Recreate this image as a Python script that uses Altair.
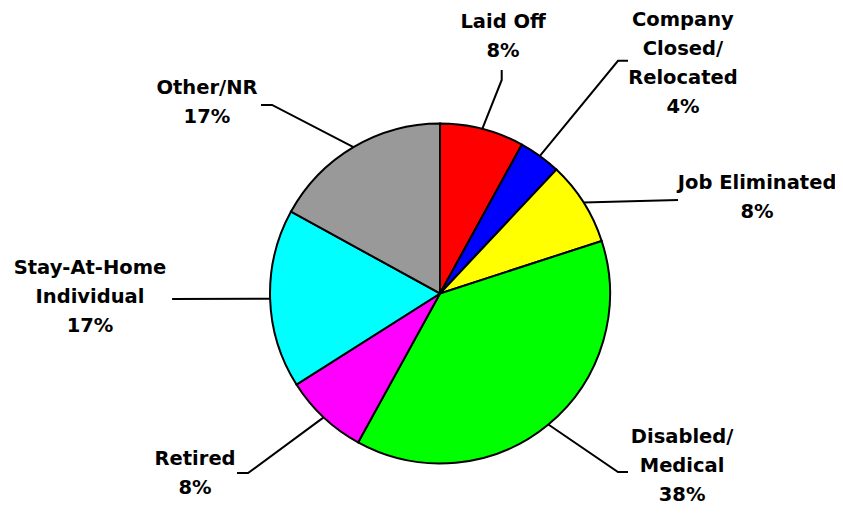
import altair as alt
import pandas as pd
import numpy as np

# ---- data ----
categories = ["Laid Off", "Company Closed/Relocated", "Job Eliminated",
              "Disabled/Medical", "Retired", "Stay-At-Home Individual", "Other/NR"]
label_lines = [["Laid Off"], ["Company", "Closed/", "Relocated"], ["Job Eliminated"],
               ["Disabled/", "Medical"], ["Retired"], ["Stay-At-Home", "Individual"], ["Other/NR"]]
percent = [8, 4, 8, 38, 8, 17, 17]
colors = ["#FF0000", "#0000FF", "#FFFF00", "#00FF00", "#FF00FF", "#00FFFF", "#999999"]

# ---- layout (units of pie radius, pie centre at 0,0; label y = first line) ----
label_pos = [(0.371, 1.597), (1.429, 1.609), (1.865, 0.650), (1.424, -0.844),
             (-1.441, -0.974), (-2.059, 0.150), (-1.371, 1.209)]
leader_elbow = [(0.363, 1.256), (1.047, 1.369), (1.40, 0.55), (1.047, -1.05),
                (-1.129, -1.056), (-1.576, -0.032), (-0.988, 1.109)]
leader_end = [(0.363, 1.315), (1.106, 1.369), (1.40, 0.55), (1.106, -1.05),
              (-1.194, -1.056), (-1.576, -0.032), (-1.053, 1.109)]

W, H = 827, 500
R = 170
xdom = [-2.5412, 2.3235]
ydom = [-1.2618, 1.6794]
xs = alt.Scale(domain=xdom, zero=False, nice=False)
ys = alt.Scale(domain=ydom, zero=False, nice=False)

pie_df = pd.DataFrame({"category": categories, "pct": percent, "idx": list(range(len(percent)))})

pct = np.array(percent, dtype=float)
start = np.cumsum(pct) - pct
mid = (start + pct / 2) / 100 * 2 * np.pi
edge_x = np.sin(mid)
edge_y = np.cos(mid)

rows = []
for i, c in enumerate(categories):
    rows.append({"category": c, "seq": 0, "x": edge_x[i], "y": edge_y[i]})
    rows.append({"category": c, "seq": 1, "x": leader_elbow[i][0], "y": leader_elbow[i][1]})
    rows.append({"category": c, "seq": 2, "x": leader_end[i][0], "y": leader_end[i][1]})
line_df = pd.DataFrame(rows)

text_df = pd.DataFrame({
    "category": categories,
    "label": ["\n".join(l + [f"{p}%"]) for l, p in zip(label_lines, percent)],
    "x": [p[0] for p in label_pos],
    "y": [p[1] for p in label_pos],
})

pie = alt.Chart(pie_df).mark_arc(outerRadius=R, stroke="black", strokeWidth=2).encode(
    theta=alt.Theta("pct:Q", stack=True),
    order=alt.Order("idx:Q"),
    color=alt.Color("category:N", scale=alt.Scale(domain=categories, range=colors), legend=None),
    x=alt.X(datum=0, type="quantitative", scale=xs, axis=None),
    y=alt.Y(datum=0, type="quantitative", scale=ys, axis=None),
)

leaders = alt.Chart(line_df).mark_line(color="black", strokeWidth=2).encode(
    x=alt.X("x:Q", scale=xs, axis=None),
    y=alt.Y("y:Q", scale=ys, axis=None),
    detail="category:N",
    order="seq:Q",
)

labels = alt.Chart(text_df).mark_text(
    font="DejaVu Sans", fontSize=19.5, fontWeight="bold", color="black",
    lineBreak="\n", lineHeight=29, align="center", baseline="middle",
).encode(
    x=alt.X("x:Q", scale=xs, axis=None),
    y=alt.Y("y:Q", scale=ys, axis=None),
    text="label:N",
)

chart = alt.layer(pie, leaders, labels).properties(
    width=W, height=H, padding=0, autosize=alt.AutoSizeParams(type="none"),
).configure_view(stroke=None)

chart.save("out.html", embed_options={"renderer": "svg", "actions": False})
